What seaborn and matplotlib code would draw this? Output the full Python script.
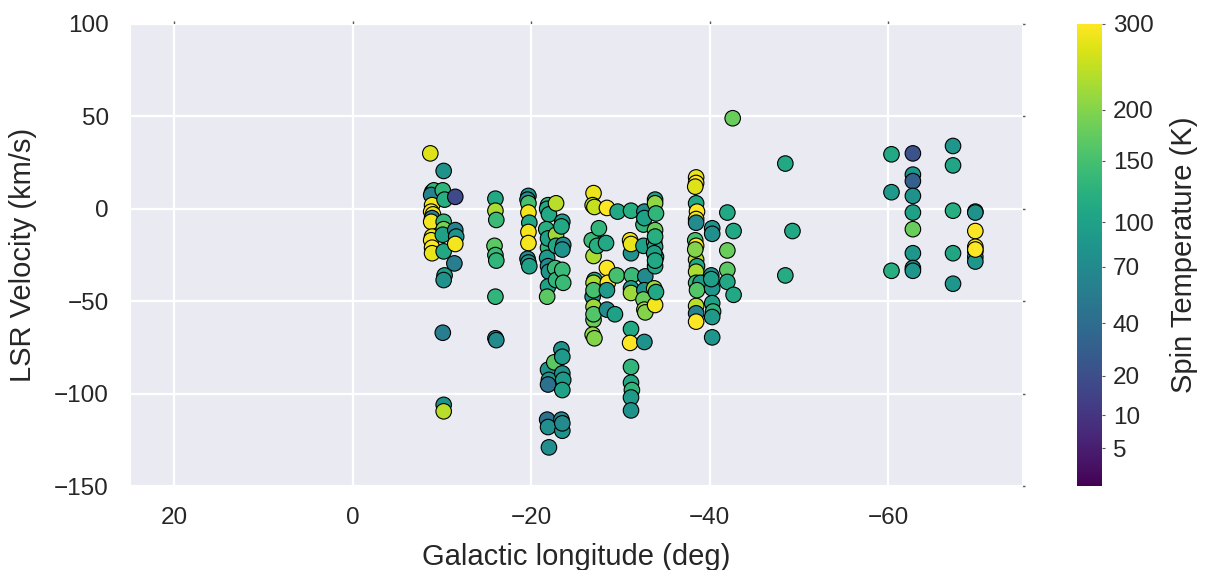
import numpy as np
import pandas as pd
import matplotlib
matplotlib.use("Agg")
import matplotlib.pyplot as plt
import matplotlib.colors as mcolors
import seaborn as sns

# Galactic longitude (deg)
lon = [
    -8.7, -8.9, -9.1, -8.8, -8.9, -8.8, -9.0, -8.9, -8.8, -8.9, -8.8, -8.9, -8.9,
    -10.2, -10.1, -10.3, -10.2, -10.2, -10.1, -10.2, -10.3, -10.2, -10.1, -10.2, -10.2,
    -11.5, -11.5, -11.6, -11.5, -11.4,
    -16.0, -16.0, -16.1, -15.9, -16.0, -16.1, -16.0, -16.0, -16.1,
    -19.7, -19.6, -19.7, -19.7, -19.8, -19.7, -19.7, -19.6, -19.7, -19.8,
    -21.9, -21.8, -22.0, -21.9, -21.8, -21.9, -22.0, -21.9, -21.8, -21.9, -22.0, -21.9, -21.8, -21.9, -22.0, -21.7, -21.9,
    -22.8, -22.8, -22.7, -22.8, -22.6, -22.8,
    -23.5, -23.4, -23.6, -23.5, -23.5, -23.6, -23.4, -23.5, -23.5, -23.6, -23.5, -23.4, -23.5, -23.5,
    -27.0, -26.9, -27.1, -27.0, -26.8, -27.0, -27.1, -27.0, -26.9, -27.0, -27.0, -26.9, -27.1, -27.0, -27.0,
    -27.6, -27.4,
    -28.5, -28.4, -28.5, -28.6, -28.5, -28.5,
    -29.7, -29.6, -29.4,
    -31.2, -31.1, -31.2, -31.3, -31.2, -31.2, -31.2, -31.1, -31.2, -31.2, -31.3, -31.2, -31.2, -31.2,
    -32.7, -32.6, -32.7, -32.8, -32.7, -32.6, -32.7, -32.8, -32.6, -32.7,
    -33.9, -33.9, -34.0, -33.9, -33.8, -33.9, -34.0, -33.9, -33.8, -33.9, -34.0, -33.9, -33.8, -33.9,
    -38.5, -38.5, -38.4, -38.5, -38.6, -38.5, -38.5, -38.4, -38.5, -38.5, -38.6, -38.5, -38.5, -39.0, -38.5, -38.5, -38.5, -38.6, -38.4,
    -40.3, -40.3, -40.2, -40.3, -40.3, -40.4, -40.3, -40.3, -40.2,
    -42.0, -42.0, -42.0, -42.0,
    -42.7, -42.7, -42.6,
    -48.5, -48.5, -49.3,
    -60.4, -60.4, -60.4,
    -62.8, -62.8, -62.8, -62.8, -62.8, -62.8, -62.8, -62.8, -62.8,
    -67.3, -67.3, -67.3, -67.3, -67.3,
    -69.8, -69.8, -69.8, -69.8, -69.8, -69.8, -69.8, -69.8,
]

# LSR velocity (km/s)
vel = [
    30, 9, 10, 7.5, 2, -1.5, -3, -5, -7, -15, -17, -21, -24,
    20.5, 10, 5, -7, -11, -14, -23, -36, -38.5, -67, -106, -109.5,
    6.5, -11.5, -15, -19, -29.5,
    5.5, -1, -6, -20, -25, -28, -47.5, -70, -71,
    7, 5, 3, -2, -7.5, -12.5, -18.5, -27, -29, -31,
    2, 0, -3, -21, -26.5, -31, -34, -42, -47.5, -87, -92.5, -95, -114, -118, -129, -11, -16,
    3, -14, -32, -38.5, -83, -20,
    -7, -9.5, -19.5, -22, -33, -40, -76, -80, -89, -92.5, -98, -114, -120, -116,
    8.5, 2, 1, -17, -17, -25.5, -38.5, -40, -47.5, -53, -60, -68, -70, -44, -57,
    -10.5, -20,
    0.5, -18.5, -32, -40, -54.5, -44,
    -1.5, -36, -57,
    -1, -17, -24, -36, -43, -45.5, -65, -72.5, -85.5, -94, -98, -102, -109, -19,
    -1.5, -8.5, -72, -36.5, -44, -49, -54.5, -56, -20, -5,
    5, 3, -2.5, -11.5, -18, -20.5, -26, -31, -43, -52, -45, -15, -24, -28,
    17, 14, 12, 3, -1.5, -5.5, -7.5, -17, -20, -27.5, -31, -34, -40, -40, -52.5, -56.5, -61, -44, -22,
    -10.5, -13.5, -36, -43, -51, -55.5, -58.5, -69.5, -38,
    -2, -22.5, -33, -39.5,
    -12, -46.5, 49,
    24.5, -36, -12,
    29.5, 9, -33.5,
    30, 18.5, 15, 7, -2, -11, -24, -32, -33.5,
    34, 23.5, -1, -24, -40.5,
    -1.5, -2, -12, -20.5, -23, -26, -28.5, -22,
]

# Spin temperature (K)
tspin = [
    270, 110, 130, 60, 290, 290, 290, 60, 290, 280, 290, 300, 280,
    80, 130, 120, 130, 190, 100, 110, 100, 80, 55, 80, 240,
    18, 60, 80, 290, 55,
    110, 230, 140, 170, 140, 130, 130, 60, 70,
    80, 70, 150, 290, 110, 290, 290, 70, 80, 100,
    130, 110, 110, 130, 90, 70, 80, 100, 170, 80, 80, 45, 45, 75, 75, 120, 100,
    240, 220, 140, 130, 170, 110,
    90, 110, 70, 80, 140, 140, 80, 90, 80, 90, 100, 65, 80, 70,
    280, 240, 250, 90, 140, 230, 110, 230, 80, 220, 180, 210, 200, 150, 160,
    130, 120,
    300, 110, 300, 300, 70, 90,
    110, 150, 100,
    120, 290, 80, 140, 90, 220, 110, 300, 130, 110, 130, 90, 80, 280,
    70, 130, 80, 70, 80, 180, 220, 200, 100, 100,
    90, 210, 130, 180, 140, 110, 90, 110, 220, 290, 110, 120, 100, 110,
    280, 300, 270, 110, 300, 290, 70, 150, 300, 240, 110, 230, 140, 90, 240, 60, 300, 160, 200,
    80, 75, 80, 85, 100, 130, 90, 85, 95,
    110, 180, 170, 110,
    110, 110, 180,
    110, 115, 110,
    110, 90, 120,
    22, 85, 30, 80, 100, 180, 85, 70, 85,
    85, 105, 120, 105, 85,
    120, 80, 300, 290, 80, 85, 85, 300,
]

df = pd.DataFrame({"lon": lon, "vel": vel, "tspin": tspin})

sns.set_style("darkgrid")
plt.rcParams["font.family"] = ["Liberation Sans", "DejaVu Sans"]

fig = plt.figure(figsize=(12.12, 5.70), dpi=100)
ax = fig.add_axes([0.107, 0.147, 0.736, 0.811])
cax = fig.add_axes([0.889, 0.147, 0.020, 0.811])

norm = mcolors.PowerNorm(gamma=0.5, vmin=3, vmax=300)
sns.scatterplot(data=df, x="lon", y="vel", hue="tspin", palette="viridis",
                hue_norm=norm, s=125, edgecolor="black", linewidth=0.8,
                legend=False, ax=ax, zorder=3)

ax.set_xlim(25, -75)
ax.set_ylim(-150, 100)
ax.set_xticks([20, 0, -20, -40, -60])
ax.set_yticks([100, 50, 0, -50, -100, -150])
ax.set_xlabel("Galactic longitude (deg)", fontsize=21, labelpad=10, color="#262626")
ax.set_ylabel("LSR Velocity (km/s)", fontsize=21, labelpad=12, color="#262626")
ax.tick_params(labelsize=17.5, length=2, width=1, color="#555555", pad=13,
               colors="#262626")
ax.tick_params(axis="both", which="major", color="#555555")
ax.tick_params(top=True, right=True)
ax.grid(color="white", linewidth=1.6)

sm = plt.cm.ScalarMappable(norm=norm, cmap="viridis")
cb = fig.colorbar(sm, cax=cax)
cb.set_ticks([5, 10, 20, 40, 70, 100, 150, 200, 300])
cb.set_ticklabels(["5", "10", "20", "40", "70", "100", "150", "200", "300"])
cb.ax.tick_params(labelsize=17.5, length=2, pad=6, colors="#262626", color="#555555")
cb.outline.set_visible(False)
cb.set_label("Spin Temperature (K)", fontsize=21, labelpad=12, color="#262626")

fig.savefig("out.png", dpi=100)
